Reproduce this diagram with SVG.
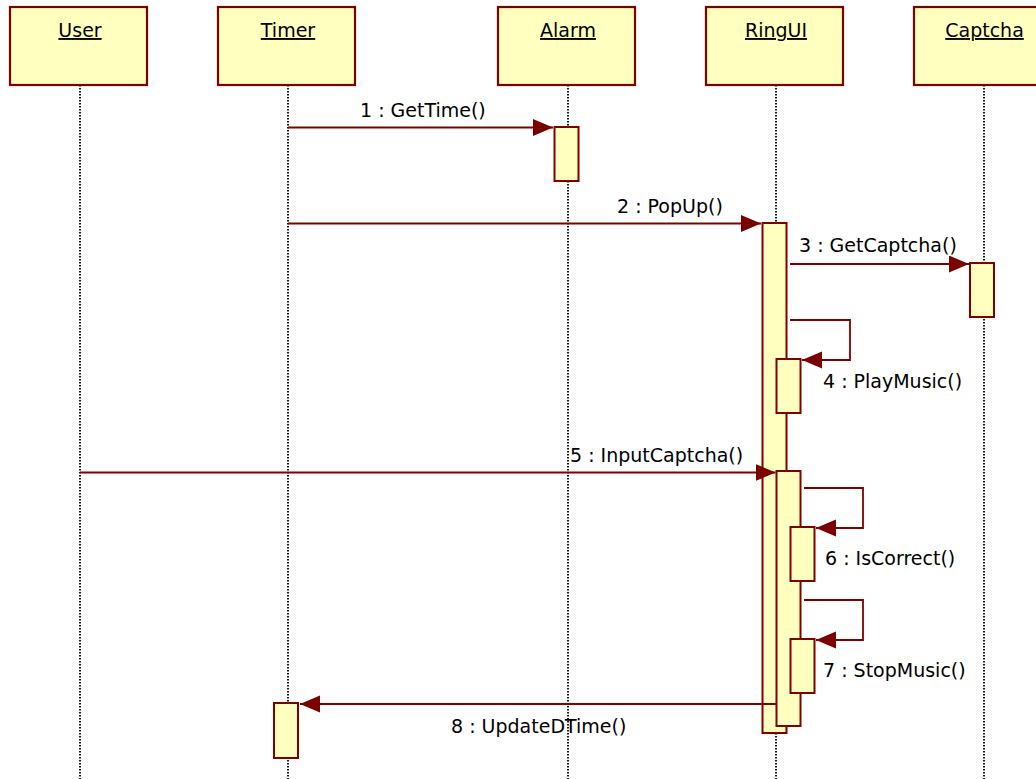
<svg xmlns="http://www.w3.org/2000/svg" width="1036" height="779" viewBox="0 0 1036 779">
<style>
.hdr{fill:#ffffc0;stroke:#800000;stroke-width:2.2}
.act{fill:#ffffc0;stroke:#800000;stroke-width:2}
.life{stroke:#000;stroke-width:1.8;stroke-dasharray:1.5 1.5;fill:none}
.msg{stroke:#800000;stroke-width:1.8;fill:none}
.t{font-family:"DejaVu Sans","Verdana",sans-serif;font-size:19px;fill:#000}
.h{font-family:"DejaVu Sans","Verdana",sans-serif;font-size:19px;fill:#000;text-anchor:middle;text-decoration:underline}
</style>
<defs>
<marker id="arr" markerUnits="userSpaceOnUse" markerWidth="22" markerHeight="18" refX="20" refY="8.5" orient="auto">
<path d="M0,0 L20,8.5 L0,17 z" fill="#7a0000"/>
</marker>
</defs>
<rect width="1036" height="779" fill="#fff"/>
<g id="lifelines">
<line class="life" x1="80" y1="85" x2="80" y2="779"/>
<line class="life" x1="288" y1="85" x2="288" y2="779"/>
<line class="life" x1="568" y1="85" x2="568" y2="779"/>
<line class="life" x1="776" y1="85" x2="776" y2="779"/>
<line class="life" x1="984" y1="85" x2="984" y2="779"/>
</g>
<g id="User"><rect class="hdr" x="10" y="7" width="137" height="78"/><text class="h" x="80" y="37">User</text></g>
<g id="Timer"><rect class="hdr" x="218" y="7" width="137" height="78"/><text class="h" x="288" y="37">Timer</text></g>
<g id="Alarm"><rect class="hdr" x="498" y="7" width="137" height="78"/><text class="h" x="568" y="37">Alarm</text></g>
<g id="RingUI"><rect class="hdr" x="706" y="7" width="137" height="78"/><text class="h" x="776" y="37">RingUI</text></g>
<g id="Captcha"><rect class="hdr" x="914" y="7" width="137" height="78"/><text class="h" x="984.5" y="37">Captcha</text></g>
<g id="activations">
<rect class="act" x="554.5" y="127" width="24" height="54"/>
<rect class="act" x="762.5" y="223" width="24" height="510"/>
<rect class="act" x="970" y="263" width="24" height="54"/>
<rect class="act" x="776.5" y="359" width="24" height="54"/>
<rect class="act" x="776.5" y="471" width="24" height="255"/>
<rect class="act" x="790.5" y="527" width="24" height="54"/>
<rect class="act" x="790.5" y="639" width="24" height="54"/>
<rect class="act" x="274" y="703" width="24" height="55"/>
</g>
<g id="connectors">
<line class="msg" x1="288" y1="127.5" x2="553" y2="127.5" marker-end="url(#arr)"/>
<line class="msg" x1="288" y1="223.5" x2="761" y2="223.5" marker-end="url(#arr)"/>
<line class="msg" x1="790" y1="264" x2="969" y2="264" marker-end="url(#arr)"/>
<polyline class="msg" points="790,320 850,320 850,360 802,360" marker-end="url(#arr)"/>
<line class="msg" x1="80" y1="472.5" x2="775.5" y2="472.5" marker-end="url(#arr)"/>
<polyline class="msg" points="804,488 863,488 863,528 816,528" marker-end="url(#arr)"/>
<polyline class="msg" points="804,600 863,600 863,640 816,640" marker-end="url(#arr)"/>
<line class="msg" x1="776.5" y1="704" x2="300" y2="704" marker-end="url(#arr)"/>
</g>
<g id="labels">
<text class="t" x="360" y="117">1 : GetTime()</text>
<text class="t" x="617" y="213">2 : PopUp()</text>
<text class="t" x="799" y="252">3 : GetCaptcha()</text>
<text class="t" x="823" y="388">4 : PlayMusic()</text>
<text class="t" x="570" y="462">5 : InputCaptcha()</text>
<text class="t" x="825" y="565">6 : IsCorrect()</text>
<text class="t" x="823" y="677">7 : StopMusic()</text>
<text class="t" x="451" y="733">8 : UpdateDTime()</text>
</g>
</svg>
